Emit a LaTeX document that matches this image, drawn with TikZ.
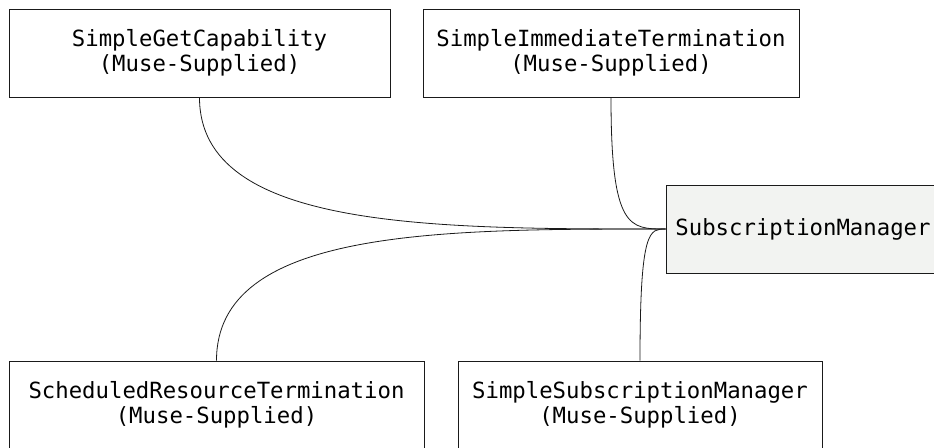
\documentclass[tikz,border=0pt]{standalone}
\usepackage{fontspec}
\newfontfamily\boxfont{DejaVu Sans Mono}
\definecolor{smfill}{HTML}{F2F3F1}
\definecolor{edge}{HTML}{1A1A1A}
\tikzset{
  cls/.style={draw=edge, line width=1pt, fill=white, minimum height=88pt, inner sep=0pt,
    align=center, font=\boxfont\fontsize{22.3}{24.5}\selectfont},
  conn/.style={draw=edge, line width=0.8pt}
}
\begin{document}
\begin{tikzpicture}[x=1pt,y=-1pt]
\useasboundingbox (0,0) rectangle (934,447);
\node[cls, minimum width=381pt] (gc) at (199.5,53) {SimpleGetCapability\\(Muse-Supplied)};
\node[cls, minimum width=376pt] (it) at (611,53) {SimpleImmediateTermination\\(Muse-Supplied)};
\node[cls, minimum width=274pt, fill=smfill] (sm) at (803,229) {SubscriptionManager};
\node[cls, minimum width=415pt] (srt) at (216.5,405) {ScheduledResourceTermination\\(Muse-Supplied)};
\node[cls, minimum width=364pt] (ssm) at (640,405) {SimpleSubscriptionManager\\(Muse-Supplied)};
\draw[conn] (gc.south) .. controls +(0,132) and +(-234,0) .. (sm.west);
\draw[conn] (it.south) .. controls +(0,132) and +(-36,0) .. (sm.west);
\draw[conn] (srt.north) .. controls +(0,-132) and +(-226,0) .. (sm.west);
\draw[conn] (ssm.north) .. controls +(0,-132) and +(-16,0) .. (sm.west);
\end{tikzpicture}
\end{document}
